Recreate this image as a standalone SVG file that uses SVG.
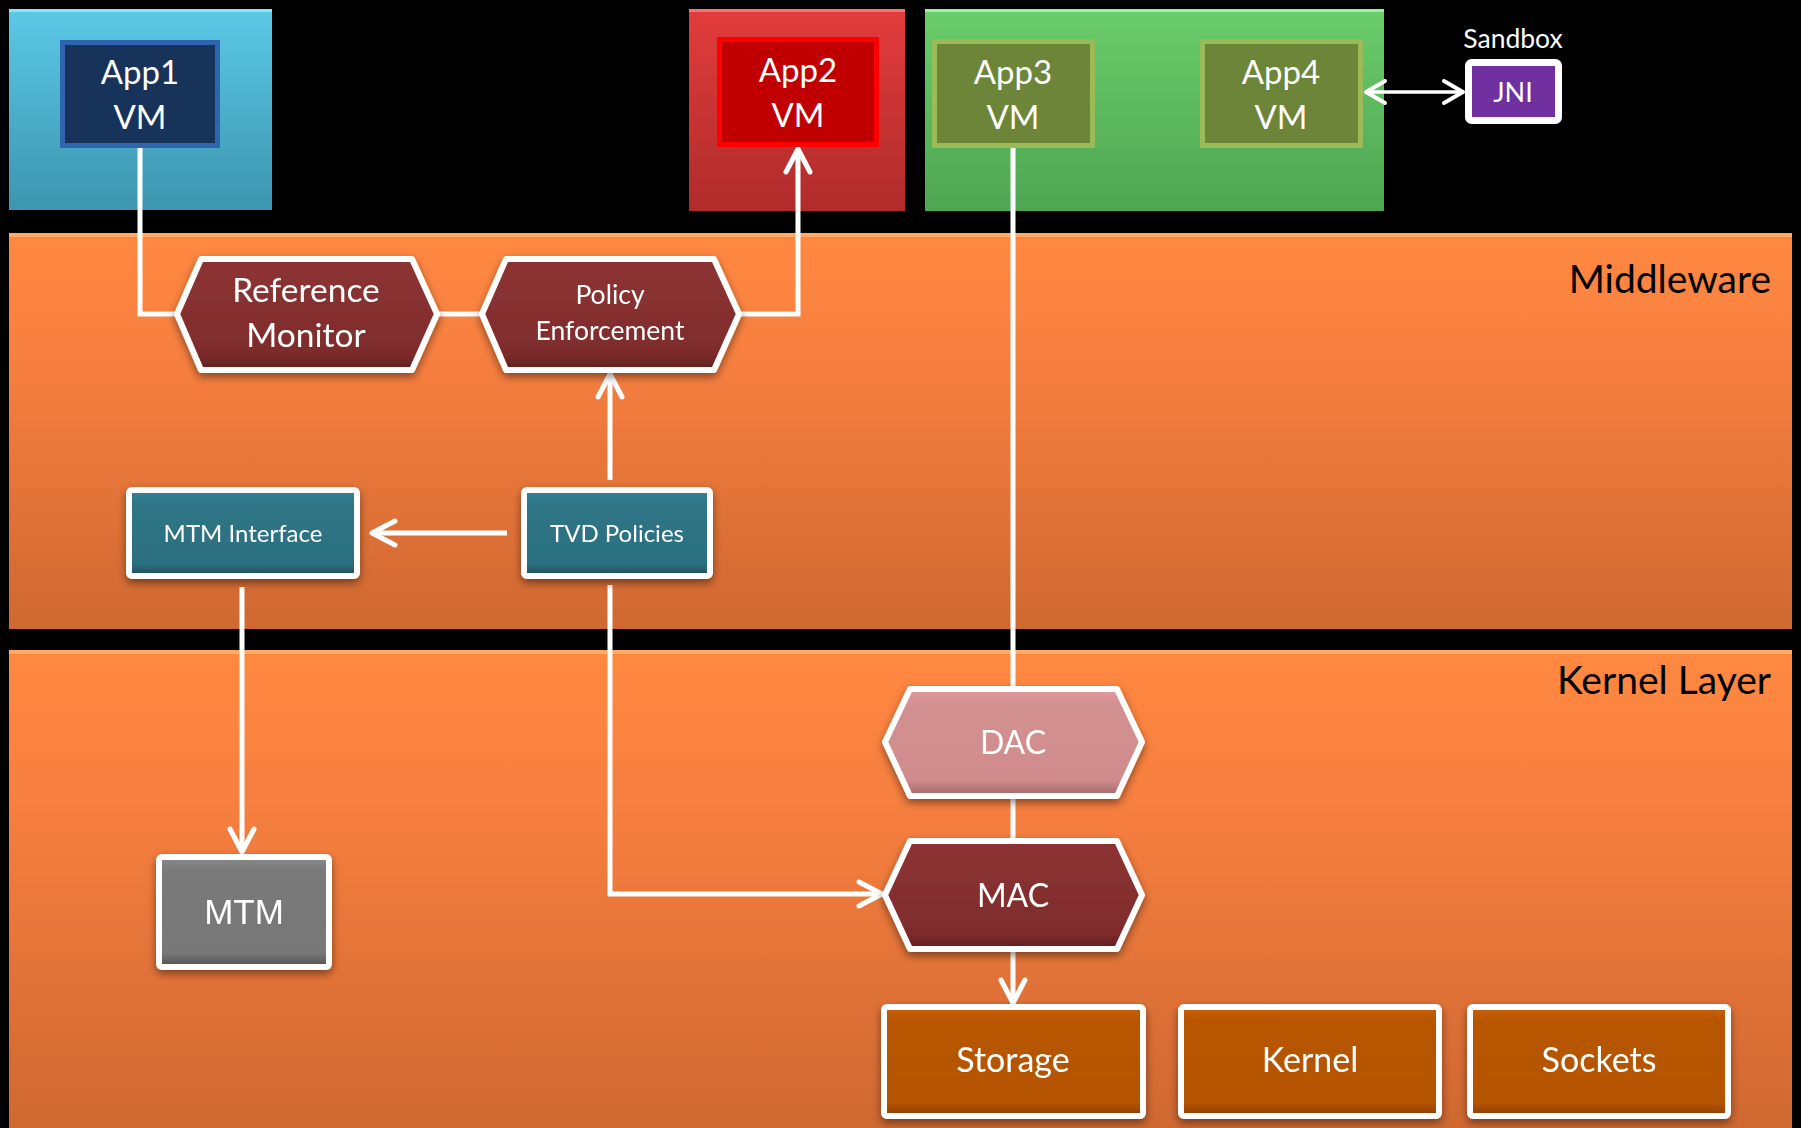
<svg xmlns="http://www.w3.org/2000/svg" width="1801" height="1128" viewBox="0 0 1801 1128">
<defs>
<style>
.t{font-family:Lato,"Open Sans","Liberation Sans",sans-serif;fill:#fff;text-anchor:middle}
.lbl{font-family:Lato,"Open Sans","Liberation Sans",sans-serif;fill:#000;text-anchor:end;font-size:39px}
.ln{fill:none;stroke:#fff;stroke-width:5;stroke-linejoin:miter}
.wb{stroke:#fff;stroke-width:6;stroke-linejoin:round}
</style>
<linearGradient id="gBlue" x1="0" y1="0" x2="0" y2="1"><stop offset="0" stop-color="#5BC9E6"/><stop offset="1" stop-color="#3D95AF"/></linearGradient>
<linearGradient id="gRed" x1="0" y1="0" x2="0" y2="1"><stop offset="0" stop-color="#E33C3C"/><stop offset="1" stop-color="#B02B2B"/></linearGradient>
<linearGradient id="gGreen" x1="0" y1="0" x2="0" y2="1"><stop offset="0" stop-color="#6BCD6B"/><stop offset="1" stop-color="#4EA552"/></linearGradient>
<linearGradient id="gLayer" x1="0" y1="0" x2="0" y2="1"><stop offset="0" stop-color="#FF8840"/><stop offset="0.3" stop-color="#F88040"/><stop offset="1" stop-color="#CF6831"/></linearGradient>
<linearGradient id="gHex" x1="0" y1="0" x2="0" y2="1"><stop offset="0" stop-color="#8E3333"/><stop offset="0.85" stop-color="#7E2C2C"/><stop offset="1" stop-color="#5E1F1F"/></linearGradient>
<linearGradient id="gDac" x1="0" y1="0" x2="0" y2="1"><stop offset="0" stop-color="#E09C9C"/><stop offset="0.15" stop-color="#D39090"/><stop offset="0.85" stop-color="#D08C8C"/><stop offset="1" stop-color="#9E6868"/></linearGradient>
<linearGradient id="gTeal" x1="0" y1="0" x2="0" y2="1"><stop offset="0" stop-color="#34829A"/><stop offset="0.15" stop-color="#2E7587"/><stop offset="0.85" stop-color="#2C7080"/><stop offset="1" stop-color="#1D4E5A"/></linearGradient>
<linearGradient id="gGray" x1="0" y1="0" x2="0" y2="1"><stop offset="0" stop-color="#8A8A8A"/><stop offset="0.12" stop-color="#7A7A7A"/><stop offset="0.88" stop-color="#777"/><stop offset="1" stop-color="#4F4F4F"/></linearGradient>
<linearGradient id="gOr" x1="0" y1="0" x2="0" y2="1"><stop offset="0" stop-color="#C85F08"/><stop offset="0.12" stop-color="#B85604"/><stop offset="0.88" stop-color="#B45303"/><stop offset="1" stop-color="#8A3F02"/></linearGradient>
<filter id="sh" x="-10%" y="-10%" width="125%" height="140%"><feDropShadow dx="0" dy="4" stdDeviation="4" flood-color="#000" flood-opacity="0.45"/></filter>
<marker id="arr" markerUnits="userSpaceOnUse" viewBox="-30 -20 40 40" markerWidth="40" markerHeight="40" refX="0" refY="0" orient="auto-start-reverse" overflow="visible">
<path d="M-23,-12 L0,0 L-23,12" fill="none" stroke="#fff" stroke-width="5" stroke-linecap="round" stroke-linejoin="round"/>
</marker>
<marker id="arr2" markerUnits="userSpaceOnUse" viewBox="-30 -20 40 40" markerWidth="40" markerHeight="40" refX="0" refY="0" orient="auto-start-reverse" overflow="visible">
<path d="M-19,-11 L0,0 L-19,11" fill="none" stroke="#fff" stroke-width="4" stroke-linecap="round" stroke-linejoin="round"/>
</marker>
</defs>
<rect x="0" y="0" width="1801" height="1128" fill="#000"/>

<g id="layer-middleware">
<rect x="9" y="233" width="1783" height="396" fill="url(#gLayer)"/>
<rect x="9" y="233" width="1783" height="4" fill="#FFB36E" opacity="0.8"/>
<text class="lbl" x="1771" y="293">Middleware</text>
</g>
<g id="layer-kernel">
<rect x="9" y="650" width="1783" height="478" fill="url(#gLayer)"/>
<rect x="9" y="650" width="1783" height="4" fill="#FFB36E" opacity="0.8"/>
<text class="lbl" x="1771" y="694">Kernel Layer</text>
</g>

<g id="container-app1">
<rect x="9" y="9" width="263" height="201" fill="url(#gBlue)"/>
<rect x="9" y="9" width="263" height="3" fill="#8EE3F5"/>
</g>
<g id="container-app2">
<rect x="689" y="9" width="216" height="202" fill="url(#gRed)"/>
<rect x="689" y="9" width="216" height="3" fill="#F57575"/>
</g>
<g id="container-app34">
<rect x="925" y="9" width="459" height="202" fill="url(#gGreen)"/>
<rect x="925" y="9" width="459" height="3" fill="#9DF09D"/>
</g>

<g id="connectors">
<path class="ln" d="M140,148 V314 H178"/>
<path class="ln" d="M438,314 H482"/>
<path class="ln" d="M740,314 H798 V149" marker-end="url(#arr)"/>
<path class="ln" d="M1013,148 V690"/>
<path class="ln" d="M1013,796 V842"/>
<path class="ln" d="M1013,949 V1003" marker-end="url(#arr)"/>
<path class="ln" d="M610,480 V374" marker-end="url(#arr)"/>
<path class="ln" d="M507,533 H372" marker-end="url(#arr)"/>
<path class="ln" d="M610,585 V894 H882" marker-end="url(#arr)"/>
<path class="ln" d="M242,587 V852" marker-end="url(#arr)"/>
<path class="ln" style="stroke-width:3.5" d="M1366,92 H1463" marker-start="url(#arr2)" marker-end="url(#arr2)"/>
</g>

<g id="app1">
<rect x="62.5" y="42.5" width="155" height="103" fill="#17335A" stroke="#2F64AE" stroke-width="5"/>
<text class="t" x="140" y="84" font-size="33">App1</text>
<text class="t" x="140" y="129" font-size="33">VM</text>
</g>
<g id="app2">
<rect x="719.5" y="39.5" width="157" height="105" fill="#C00000" stroke="#FF0000" stroke-width="5"/>
<text class="t" x="798" y="82" font-size="33">App2</text>
<text class="t" x="798" y="127" font-size="33">VM</text>
</g>
<g id="app3">
<rect x="934.5" y="41.5" width="158" height="104" fill="#6D8538" stroke="#9BBB59" stroke-width="5"/>
<text class="t" x="1013" y="84" font-size="33">App3</text>
<text class="t" x="1013" y="129" font-size="33">VM</text>
</g>
<g id="app4">
<rect x="1202.5" y="41.5" width="158" height="104" fill="#6D8538" stroke="#9BBB59" stroke-width="5"/>
<text class="t" x="1281" y="84" font-size="33">App4</text>
<text class="t" x="1281" y="129" font-size="33">VM</text>
</g>
<g id="jni">
<text class="t" x="1513" y="48" font-size="26.5">Sandbox</text>
<rect x="1468.5" y="62.5" width="90" height="58" rx="3" fill="#7030A0" stroke="#fff" stroke-width="7"/>
<text class="t" x="1513" y="102" font-size="27">JNI</text>
</g>

<g id="reference-monitor" filter="url(#sh)">
<polygon class="wb" points="177,314 201,259 412,259 437,314 412,370 201,370" fill="url(#gHex)"/>
<text class="t" x="306" y="302" font-size="33.5">Reference</text>
<text class="t" x="306" y="347" font-size="33.5">Monitor</text>
</g>
<g id="policy-enforcement" filter="url(#sh)">
<polygon class="wb" points="482,314 506,259 714,259 739,314 714,370 506,370" fill="url(#gHex)"/>
<text class="t" x="610" y="304" font-size="26.5">Policy</text>
<text class="t" x="610" y="340" font-size="26.5">Enforcement</text>
</g>
<g id="mtm-interface" filter="url(#sh)">
<rect class="wb" x="129" y="490" width="228" height="86" rx="3" fill="url(#gTeal)"/>
<text class="t" x="243" y="542" font-size="24">MTM Interface</text>
</g>
<g id="tvd-policies" filter="url(#sh)">
<rect class="wb" x="524" y="490" width="186" height="86" rx="3" fill="url(#gTeal)"/>
<text class="t" x="617" y="542" font-size="24">TVD Policies</text>
</g>
<g id="dac" filter="url(#sh)">
<polygon class="wb" points="885,742 910,689 1117,689 1142,742 1117,796 910,796" fill="url(#gDac)"/>
<text class="t" x="1013" y="754" font-size="32">DAC</text>
</g>
<g id="mac" filter="url(#sh)">
<polygon class="wb" points="885,895 910,841 1117,841 1142,895 1117,949 910,949" fill="url(#gHex)"/>
<text class="t" x="1013" y="907" font-size="32">MAC</text>
</g>
<g id="mtm" filter="url(#sh)">
<rect class="wb" x="159" y="857" width="170" height="110" rx="3" fill="url(#gGray)"/>
<text class="t" x="244" y="924" font-size="35" style="font-family:'Liberation Sans',Arial,sans-serif">MTM</text>
</g>
<g id="storage" filter="url(#sh)">
<rect class="wb" x="884" y="1007" width="259" height="109" rx="3" fill="url(#gOr)"/>
<text class="t" x="1013" y="1072" font-size="34">Storage</text>
</g>
<g id="kernel" filter="url(#sh)">
<rect class="wb" x="1181" y="1007" width="258" height="109" rx="3" fill="url(#gOr)"/>
<text class="t" x="1310" y="1072" font-size="34">Kernel</text>
</g>
<g id="sockets" filter="url(#sh)">
<rect class="wb" x="1470" y="1007" width="258" height="109" rx="3" fill="url(#gOr)"/>
<text class="t" x="1599" y="1072" font-size="34">Sockets</text>
</g>
</svg>
